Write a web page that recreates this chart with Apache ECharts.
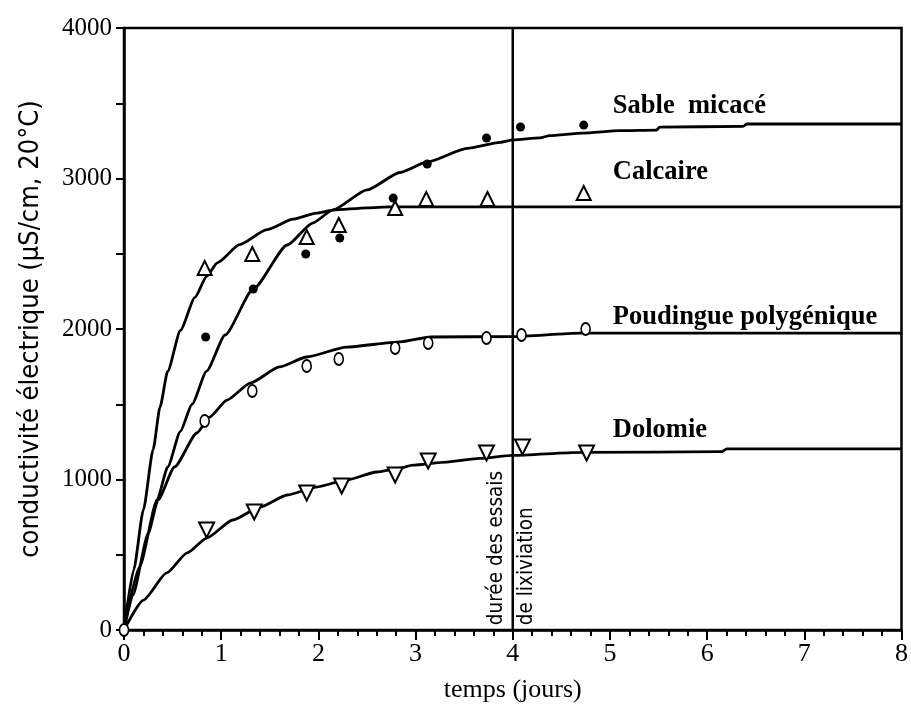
<!DOCTYPE html>
<html>
<head>
<meta charset="utf-8">
<script src="https://cdn.jsdelivr.net/npm/echarts@6/dist/echarts.min.js"></script>
<style>
  html, body { margin: 0; padding: 0; background: #fff; }
  #chart { width: 911px; height: 714px; }
</style>
</head>
<body>
<div id="chart"></div>
<script>
// Measured points [jours, µS/cm]
const sablePts = [[0.84,1947],[1.33,2266],[1.87,2498],[2.22,2605],[2.77,2870],[3.12,3096],[3.73,3269],[4.08,3342],[4.73,3355]];
const calcairePts = [[0.83,2405],[1.32,2498],[1.88,2611],[2.21,2691],[2.79,2804],[3.11,2864],[3.74,2864],[4.73,2904]];
const poudinguePts = [[0,0],[0.83,1389],[1.32,1588],[1.88,1754],[2.21,1801],[2.79,1874],[3.13,1907],[3.73,1940],[4.09,1960],[4.75,2000]];
const dolomiePts = [[0.85,664],[1.34,784],[1.88,910],[2.24,957],[2.79,1030],[3.13,1123],[3.73,1176],[4.10,1216],[4.76,1176]];

// Fitted curves
const sableCurve = [[0,0],[0.16,419],[0.34,864],[0.45,1083],[0.58,1320],[0.70,1500],[0.85,1720],[1.04,1960],[1.33,2266],[1.68,2558],[1.94,2704],[2.15,2791],[2.50,2924],[2.84,3040],[3.12,3110],[3.53,3200],[3.87,3240],[4.0,3256],[4.28,3270],[4.38,3285],[4.72,3302],[5.10,3318],[5.48,3322],[5.51,3342],[6.37,3346],[6.41,3362],[8,3362]];
const calcaireCurve = [[0,0],[0.1,400],[0.2,800],[0.3,1200],[0.37,1480],[0.45,1720],[0.58,1990],[0.73,2210],[0.85,2350],[0.96,2440],[1.19,2560],[1.47,2660],[1.74,2730],[1.98,2770],[2.15,2790],[2.50,2805],[2.74,2811],[8,2811]];
const poudingueCurve = [[0,0],[0.09,230],[0.25,644],[0.35,864],[0.52,1083],[0.75,1309],[0.88,1415],[1.06,1528],[1.30,1641],[1.60,1748],[1.88,1814],[2.29,1880],[2.84,1914],[3.15,1947],[4.0,1950],[4.69,1973],[8,1973]];
const dolomieCurve = [[0,0],[0.20,199],[0.44,379],[0.65,512],[0.85,611],[1.12,731],[1.40,817],[1.68,897],[1.98,950],[2.29,997],[2.60,1050],[2.84,1076],[2.97,1096],[3.32,1116],[3.66,1140],[4.0,1160],[4.69,1180],[6.15,1185],[6.2,1203],[8,1203]];

// End of the leaching tests
const leachLine = [[4,0],[4,4000]];

// Curve names and where they are written
const curveNames = ['Sable  micacé', 'Calcaire', 'Poudingue polygénique', 'Dolomie'];
const curveNamePos = [[5.03,3480],[5.03,3043],[5.03,2080],[5.03,1329]];
const leachNotes = ['durée des essais', 'de lixiviation'];
const leachNotePos = [[3.83,32],[4.14,32]];

const xTicks = { min: 0, max: 8, interval: 1 };
const yTicks = { min: 0, max: 4000, interval: 1000 };

const serif = 'Liberation Serif, "Times New Roman", serif';
const narrow = '"Liberation Sans Narrow", "DejaVu Sans Condensed", "Liberation Sans", sans-serif';

const curveStyle = { color: '#000', width: 2.8 };
function curve(data) {
  return { type: 'line', data: data, showSymbol: false, smooth: 0.2, smoothMonotone: 'x',
           lineStyle: curveStyle, silent: true, z: 2 };
}

const chart = echarts.init(document.getElementById('chart'), null, { renderer: 'canvas' });
chart.setOption({
  animation: false,
  backgroundColor: '#fff',
  grid: { left: 124, right: 9, top: 28, bottom: 84, show: true, borderColor: '#000', borderWidth: 2.5, backgroundColor: 'transparent' },
  xAxis: {
    type: 'value', min: xTicks.min, max: xTicks.max, interval: xTicks.interval,
    axisLine: { lineStyle: { color: '#000', width: 2.5 } },
    axisTick: { inside: false, length: 10, lineStyle: { color: '#000', width: 2 } },
    minorTick: { show: true, splitNumber: 5, length: 6, lineStyle: { color: '#000', width: 2 } },
    splitLine: { show: false },
    axisLabel: { color: '#000', fontFamily: serif, fontSize: 26, margin: 11 },
    name: 'temps (jours)', nameLocation: 'middle', nameGap: 47,
    nameTextStyle: { color: '#000', fontFamily: serif, fontSize: 26 }
  },
  yAxis: {
    type: 'value', min: yTicks.min, max: yTicks.max, interval: yTicks.interval,
    axisLine: { lineStyle: { color: '#000', width: 2.5 } },
    axisTick: { inside: false, length: 8, lineStyle: { color: '#000', width: 2 } },
    minorTick: { show: true, splitNumber: 2, length: 8, lineStyle: { color: '#000', width: 2 } },
    splitLine: { show: false },
    axisLabel: { color: '#000', fontFamily: serif, fontSize: 25, margin: 12, formatter: v => String(v) },
    name: 'conductivité électrique (µS/cm, 20°C)', nameLocation: 'middle', nameGap: 80,
    nameTextStyle: { color: '#000', fontFamily: narrow, fontSize: 27 }
  },
  series: [
    curve(sableCurve), curve(calcaireCurve), curve(poudingueCurve), curve(dolomieCurve),
    { type: 'line', data: leachLine, showSymbol: false, lineStyle: { color: '#000', width: 2.5 }, silent: true, z: 2 },
    { type: 'scatter', data: sablePts, symbol: 'circle', symbolSize: 9,
      itemStyle: { color: '#000', opacity: 1 }, z: 5 },
    { type: 'scatter', data: calcairePts, symbol: 'triangle', symbolSize: 14,
      itemStyle: { color: '#fff', borderColor: '#000', borderWidth: 2, opacity: 1 }, z: 5 },
    { type: 'scatter', data: poudinguePts, symbol: 'circle', symbolSize: [9, 12],
      itemStyle: { color: '#fff', borderColor: '#000', borderWidth: 1.8, opacity: 1 }, z: 5 },
    { type: 'scatter', data: dolomiePts, symbol: 'triangle', symbolRotate: 180, symbolSize: 15,
      itemStyle: { color: '#fff', borderColor: '#000', borderWidth: 2, opacity: 1 }, z: 5 },
    { type: 'scatter', symbolSize: 0, silent: true, z: 6, itemStyle: { opacity: 1 },
      data: curveNames.map((n, i) => ({ value: curveNamePos[i], name: n })),
      label: { show: true, position: 'inside', align: 'left', verticalAlign: 'middle',
               formatter: p => p.name, color: '#000', fontFamily: serif, fontWeight: 'bold', fontSize: 26.5 } },
    { type: 'scatter', symbolSize: 0, silent: true, z: 6, itemStyle: { opacity: 1 },
      data: leachNotes.map((n, i) => ({ value: leachNotePos[i], name: n })),
      label: { show: true, position: 'inside', align: 'left', verticalAlign: 'middle', rotate: 90,
               formatter: p => p.name, color: '#000', fontFamily: narrow, fontSize: 20.5 } }
  ]
});
</script>
</body>
</html>
